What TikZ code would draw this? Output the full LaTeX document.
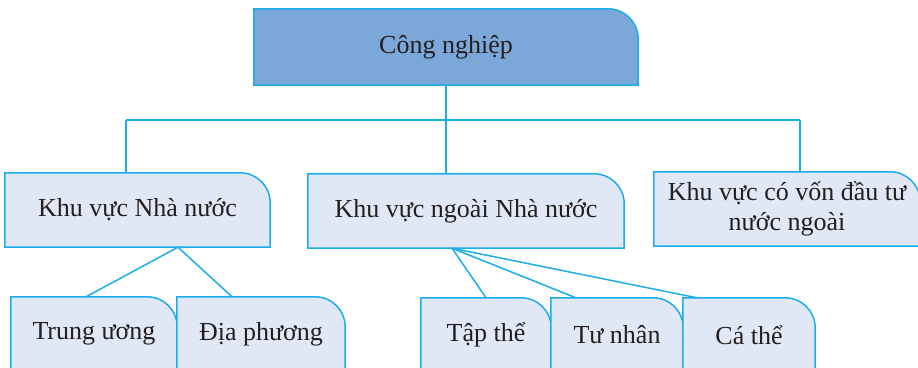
\documentclass[tikz,border=0pt]{standalone}
\usepackage{fontspec}
\setmainfont{Liberation Serif}
\usetikzlibrary{backgrounds,calc}
\definecolor{bordc}{RGB}{27,174,232}
\definecolor{topfill}{RGB}{123,167,217}
\definecolor{lightfill}{RGB}{225,232,245}
\definecolor{txtc}{RGB}{35,31,32}
\tikzset{
  box/.style={inner sep=0pt, text=txtc, font=\fontsize{26}{30}\selectfont, align=center},
  conn/.style={draw=bordc, line width=1.5pt},
}
\newcommand\rbx[2]{%
  \filldraw[fill=#2, draw=bordc, line width=1.5pt]
    (#1.south west) -- (#1.north west) -- ([xshift=-30pt]#1.north east)
    arc[start angle=90, end angle=0, radius=30pt] -- (#1.south east) -- cycle;}
\begin{document}
\begin{tikzpicture}[x=1pt, y=-1pt]
\useasboundingbox (0,0) rectangle (918,367);
% nodes
\node[box, minimum width=384pt, minimum height=76pt] (top) at (446,47) {Công nghiệp};
\node[box, minimum width=265pt, minimum height=74pt] (nn) at (137.5,210) {Khu vực Nhà nước};
\node[box, minimum width=316pt, minimum height=74pt] (ngoai) at (466,211) {Khu vực ngoài Nhà nước};
\node[box, minimum width=266pt, minimum height=74pt] (fdi) at (787,209) {Khu vực có vốn đầu tư\\nước ngoài};
\node[box, minimum width=166pt, minimum height=74pt] (tw) at (94,334) {Trung ương};
\node[box, minimum width=168pt, minimum height=74pt] (dp) at (261,334) {Địa phương};
\node[box, minimum width=130pt, minimum height=74pt] (tt) at (486,335) {Tập thể};
\node[box, minimum width=132pt, minimum height=74pt] (tn) at (617,335) {Tư nhân};
\node[box, minimum width=132pt, minimum height=74pt] (ct) at (749,335) {Cá thể};
% shapes
\begin{pgfonlayer}{background}
\rbx{top}{topfill}
\rbx{nn}{lightfill}
\rbx{ngoai}{lightfill}
\rbx{fdi}{lightfill}
\rbx{tw}{lightfill}
\rbx{dp}{lightfill}
\rbx{tt}{lightfill}
\rbx{tn}{lightfill}
\rbx{ct}{lightfill}
\end{pgfonlayer}
% connectors
\coordinate (b1) at (126,120);
\coordinate (b3) at (800,120);
\draw[conn] (b1) -- (b3);
\draw[conn] (top.south) -- (top.south |- b1);
\draw[conn] (b1) -- (b1 |- nn.north);
\draw[conn] (top.south |- b1) -- (top.south |- ngoai.north);
\draw[conn] (b3) -- (b3 |- fdi.north);
\coordinate (j1) at ([xshift=40.5pt]nn.south);
\draw[conn] (j1) -- ([xshift=-8pt]tw.north);
\draw[conn] (j1) -- ([xshift=-29pt]dp.north);
\coordinate (j2) at ([xshift=-14pt]ngoai.south);
\draw[conn] (j2) -- (tt.north);
\draw[conn] (j2) -- ([xshift=-41pt]tn.north);
\draw[conn] (j2) -- ([xshift=-52pt]ct.north);
\end{tikzpicture}
\end{document}
